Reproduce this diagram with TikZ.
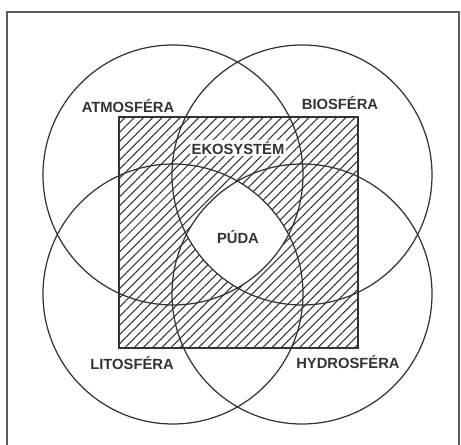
\documentclass[tikz,border=0pt]{standalone}
\usepackage{fontspec}
\setmainfont{Liberation Sans}
\usetikzlibrary{patterns.meta}

\begin{document}
\begin{tikzpicture}[x=0.02cm, y=-0.02cm, line width=0.6pt,
    lbl/.style={font=\fontsize{8.4}{10}\selectfont\bfseries, text=ink, inner sep=1pt},
    sphere/.style={draw=ink, line width=0.7pt}]
        \colorlet{ink}{black!80}
        \useasboundingbox (0,0) rectangle (461,445);

        % frame
        \draw[ink!80, line width=1.6pt] (7,445) -- (7,12) -- (459,12) -- (459,445);

        % hatched square, soil part left blank
        \fill[pattern={Lines[angle=45, distance=3.7pt, line width=0.6pt]}, pattern color=ink] (119,117) rectangle (358,348);
        \begin{scope}
            \clip (173,175) circle[radius=130];
            \clip (302,175) circle[radius=130];
            \clip (173,294) circle[radius=130];
            \fill[white] (302,294) circle[radius=130];
        \end{scope}
        \draw[ink, line width=1.3pt] (119,117) rectangle (358,348);

        % spheres
        \draw[sphere] (173,175) circle[radius=130];
        \draw[sphere] (302,175) circle[radius=130];
        \draw[sphere] (173,294) circle[radius=130];
        \draw[sphere] (302,294) circle[radius=130];

        \node[lbl] (atmo) at (128,106) {ATMOSFÉRA};
        \node[lbl] (bio) at (340,103) {BIOSFÉRA};
        \node[lbl, fill=white] (eko) at (238,148) {EKOSYSTÉM};
        \node[lbl] (puda) at (238,237) {PÚDA};
        \node[lbl] (lito) at (132,363) {LITOSFÉRA};
        \node[lbl] (hydro) at (348,362) {HYDROSFÉRA};
    \end{tikzpicture}
\end{document}
